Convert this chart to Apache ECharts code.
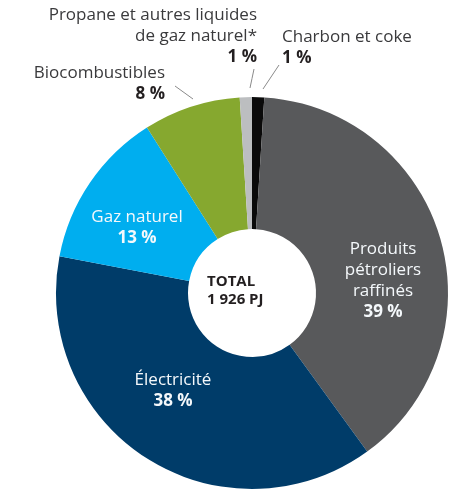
<!DOCTYPE html>
<html><head><meta charset="utf-8">
<script src="https://cdn.jsdelivr.net/npm/echarts@6/dist/echarts.min.js"></script>
<style>html,body{margin:0;padding:0;background:#fff}#c{width:462px;height:492px}</style>
</head><body><div id="c"></div>
<script>
const categories = ['Charbon et coke', 'Produits\npétroliers\nraffinés', 'Électricité', 'Gaz naturel', 'Biocombustibles', 'Propane et autres liquides\nde gaz naturel*'];
const shares = [1, 39, 38, 13, 8, 1];
const colors = ['#0a0a0a', '#58595b', '#003c69', '#00aeef', '#86a82f', '#bcbec0'];
const totalLabel = 'TOTAL\n1 926 PJ';

const F = '"Open Sans", "Noto Sans", sans-serif';
const inside = [false, true, true, true, false, false];
const aligns = ['left', 'center', 'center', 'center', 'right', 'right'];
const labelPos = [[282, 47.5], [383, 281], [173, 391], [137, 228], [165, 84], [257, 36.5]];
const linePts = [[[263, 89], [271, 77], [279, 65]], null, null, null, [[193, 99], [184, 92.5], [175, 86]], [[250, 88], [252, 78.5], [254, 69]]];

const rich = {};
['left', 'center', 'right'].forEach(a => {
  rich['ni' + a] = {fontFamily: F, fontSize: 17, color: '#f4f8fb', lineHeight: 21, align: a};
  rich['pi' + a] = {fontFamily: F, fontSize: 17, fontWeight: 'bold', color: '#f4f8fb', lineHeight: 21, align: a};
  rich['no' + a] = {fontFamily: F, fontSize: 17, color: '#3a3a3c', lineHeight: 21, align: a};
  rich['po' + a] = {fontFamily: F, fontSize: 17, fontWeight: 'bold', color: '#231f20', lineHeight: 21, align: a};
});

const data = categories.map((c, i) => ({
  name: c, value: shares[i],
  itemStyle: {color: colors[i]},
  label: {position: inside[i] ? 'inside' : 'outside', align: aligns[i]},
  labelLine: {show: !inside[i], lineStyle: {color: '#8a8a8a', width: 1}}
}));

const chart = echarts.init(document.getElementById('c'), null, {renderer: 'canvas'});
chart.setOption({
  animation: false,
  series: [{
    type: 'pie',
    center: [252, 293],
    radius: [64, 196],
    startAngle: 90,
    clockwise: true,
    avoidLabelOverlap: false,
    data: data,
    label: {
      show: true,
      rich: rich,
      formatter: p => {
        const i = p.dataIndex, k = inside[i] ? 'i' : 'o', a = aligns[i];
        return p.name.split('\n').map(l => '{n' + k + a + '|' + l + '}').join('\n') + '\n{p' + k + a + '|' + shares[i] + ' %}';
      }
    },
    labelLayout: params => {
      const i = params.dataIndex;
      const r = {x: labelPos[i][0], y: labelPos[i][1], align: aligns[i], verticalAlign: 'middle'};
      if (linePts[i]) r.labelLinePoints = linePts[i];
      return r;
    }
  }],
  graphic: [{
    type: 'text', left: 252 - 45, top: 273,
    style: {text: totalLabel, x: 0, y: 0, width: 90, align: 'center', fontFamily: F, fontSize: 15, fontWeight: 'bold', lineHeight: 18, fill: '#231f20'}
  }]
});
</script></body></html>
